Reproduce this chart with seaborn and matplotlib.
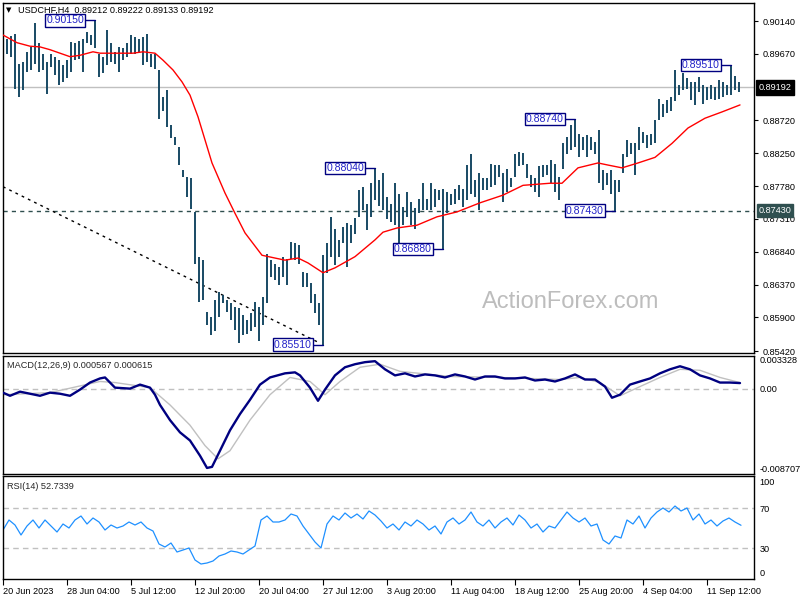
import numpy as np
import matplotlib
matplotlib.use('Agg')
import matplotlib.pyplot as plt
import matplotlib.transforms as mtransforms
import seaborn as sns

# ---------------- data (USDCHF H4) ----------------
# one drawn bar = two 4H bars, positions in 4H-bar units
bar_high = [
    .8990, .8989, .8993, .8996, .8953, .8955, .8970, .8977, .9011, .8982,
    .8967, .8955, .8967, .8963, .8958, .8951, .8958, .8984, .8982, .8986,
    .8989, .8998, .8994, .9015, .8967, .8963, .9001, .8982, .8970, .8977,
    .8975, .8982, .8994, .8991, .8989, .8991, .8996, .8967, .8967, .8944,
    .8905, .8915, .8865, .8848, .8834, .8801, .8791, .8790, .8741, .8676,
    .8672, .8598, .8591, .8615, .8626, .8622, .8615, .8610, .8605, .8603,
    .8593, .8586, .8596, .8612, .8605, .8619, .8681, .8672, .8667, .8662,
    .8676, .8674, .8698, .8696, .8693, .8655, .8653, .8639, .8624, .8610,
    .8680, .8696, .8734, .8717, .8701, .8720, .8725, .8722, .8732, .8772,
    .8777, .8753, .8782, .8804, .8787, .8796, .8762, .8753, .8782, .8767,
    .8748, .8770, .8755, .8746, .8760, .8782, .8760, .8782, .8774, .8772,
    .8774, .8770, .8767, .8774, .8779, .8774, .8808, .8824, .8787, .8796,
    .8789, .8789, .8810, .8808, .8808, .8796, .8803, .8789, .8824, .8827,
    .8825, .8810, .8794, .8789, .8806, .8808, .8808, .8815, .8810, .8791,
    .8839, .8848, .8865, .8874, .8853, .8848, .8851, .8848, .8841, .8858,
    .8801, .8796, .8801, .8787, .8787, .8824, .8844, .8839, .8839, .8863,
    .8855, .8851, .8853, .8872, .8903, .8896, .8901, .8906, .8944, .8922,
    .8939, .8932, .8927, .8927, .8934, .8922, .8920, .8922, .8920, .8929,
    .8927, .8922, .8951, .8936, .8927,
]
bar_low = [
    .8972, .8967, .8963, .8917, .8905, .8915, .8941, .8944, .8953, .8941,
    .8944, .8910, .8948, .8937, .8922, .8927, .8932, .8941, .8958, .8960,
    .8941, .8982, .8979, .8975, .8934, .8939, .8951, .8955, .8953, .8941,
    .8958, .8963, .8967, .8967, .8970, .8951, .8955, .8948, .8946, .8874,
    .8886, .8862, .8846, .8836, .8808, .8791, .8762, .8745, .8667, .8612,
    .8615, .8579, .8565, .8570, .8591, .8610, .8598, .8586, .8572, .8553,
    .8565, .8567, .8570, .8577, .8557, .8579, .8610, .8648, .8643, .8636,
    .8648, .8636, .8674, .8672, .8667, .8634, .8634, .8610, .8596, .8579,
    .8551, .8653, .8676, .8665, .8676, .8696, .8662, .8696, .8710, .8734,
    .8744, .8715, .8734, .8758, .8749, .8744, .8731, .8727, .8722, .8696,
    .8722, .8734, .8722, .8717, .8739, .8744, .8744, .8744, .8748, .8758,
    .8688, .8739, .8751, .8753, .8758, .8748, .8758, .8767, .8762, .8744,
    .8772, .8772, .8777, .8779, .8791, .8755, .8770, .8777, .8791, .8806,
    .8808, .8789, .8777, .8770, .8762, .8791, .8794, .8782, .8770, .8758,
    .8803, .8824, .8829, .8834, .8820, .8829, .8820, .8829, .8824, .8782,
    .8772, .8779, .8767, .8743, .8770, .8796, .8820, .8824, .8794, .8829,
    .8839, .8832, .8836, .8839, .8872, .8877, .8882, .8886, .8900, .8908,
    .8915, .8917, .8901, .8894, .8913, .8896, .8901, .8903, .8901, .8903,
    .8906, .8908, .8908, .8915, .8913,
]

# red moving average: (4H bar index, price)
ma_idx = [0, 7, 13.5, 18.5, 23.5, 28.5, 33.5, 38.5, 45, 48.5, 57, 65, 70, 76, 80,
          85, 89.5, 93.5, 97.5, 104.5, 111, 116, 121, 129.5, 136, 141, 147.5,
          152.5, 160, 166, 176, 186, 190, 197, 207, 217, 227, 238.5, 250, 260,
          273.5, 279.5, 287.5, 297.5, 302.5, 309.5, 317.5, 326, 334.5, 342.5,
          351, 359.5, 368.5]
ma_val = [.8994, .8983, .8978, .8977, .8973, .8968, .8963, .8965, .8970, .8968,
          .8968, .8968, .8970, .8968, .8958, .8944, .8927, .8908, .8877, .8811,
          .8768, .8739, .8711, .8679, .8675, .8672, .8675, .8668, .8654, .8661,
          .8677, .8701, .8712, .8718, .8722, .8734, .8741, .8754, .8765, .8779,
          .8782, .8782, .8804, .8811, .8808, .8804, .8811, .8819, .8839, .8861,
          .8875, .8884, .8894]

trend_idx = [0, 158]
trend_val = [0.8777, 0.8554]
support_level = 0.8743
last_close = 0.89192

annot_bar = [23, 80, 93, 110, 143, 153, 182]
annot_val = [0.90150, 0.85510, 0.88040, 0.86880, 0.88740, 0.87430, 0.89510]

main_ticks = [0.90140, 0.89670, 0.88720, 0.88250, 0.87780, 0.87310,
              0.86840, 0.86370, 0.85900, 0.85420]

macd_idx = [0, 3.5, 8.5, 13.5, 18.5, 23.5, 28.5, 33.5, 38.5, 43.5, 48.5, 51, 56,
            63.5, 68.5, 73.5, 76, 78.5, 83.5, 88.5, 93.5, 98.5, 102, 104.5, 108.5,
            113.5, 118.5, 123.5, 128.5, 133.5, 141, 146, 148.5, 151, 153.5, 157.5,
            161, 166, 171, 176, 181, 186, 191, 196, 201, 206, 211, 216, 221, 226,
            231, 236, 241, 246, 251, 256, 261, 266, 271, 276, 281, 286, 291, 296,
            301, 304.5, 308.5, 313.5, 318.5, 323.5, 328.5, 333.5, 338.5, 343.5,
            348.5, 353.5, 358.5, 363.5, 368.5]
macd_val = [-0.00041, -0.00073, -0.00031, -0.00052, -0.00073, -0.00041, -0.00052,
            -0.00073, -0.00010, 0.00062, 0.00104, 0.00114, 0.00010, 0.00000,
            0.00041, 0.00010, -0.00062, -0.00166, -0.00321, -0.00446, -0.00529,
            -0.00684, -0.00809, -0.00798, -0.00633, -0.00425, -0.00259, -0.00114,
            0.00041, 0.00114, 0.00156, 0.00166, 0.00135, 0.00073, 0.00010,
            -0.00124, -0.00010, 0.00135, 0.00218, 0.00249, 0.00270, 0.00280,
            0.00197, 0.00135, 0.00156, 0.00124, 0.00145, 0.00135, 0.00114,
            0.00145, 0.00124, 0.00093, 0.00124, 0.00124, 0.00104, 0.00104,
            0.00114, 0.00083, 0.00093, 0.00073, 0.00104, 0.00145, 0.00093,
            0.00093, 0.00021, -0.00093, -0.00062, 0.00041, 0.00073, 0.00104,
            0.00156, 0.00197, 0.00228, 0.00197, 0.00135, 0.00104, 0.00062,
            0.00062, 0.000567]
signal_idx = [0, 23.5, 48.5, 56, 73.5, 83.5, 93.5, 101, 107.5, 113.5, 123.5, 133.5,
              143.5, 153.5, 161, 168.5, 178.5, 188.5, 198.5, 223.5, 248.5, 278.5,
              288.5, 298.5, 308.5, 318.5, 328.5, 338.5, 348.5, 358.5, 368.5]
signal_val = [-0.00062, -0.00041, 0.00073, 0.00062, 0.00010, -0.00166, -0.00373,
              -0.00581, -0.00716, -0.00633, -0.00321, -0.00062, 0.00114, 0.00073,
              -0.00062, 0.00073, 0.00218, 0.00249, 0.00176, 0.00124, 0.00114,
              0.00093, 0.00114, 0.00062, -0.00073, 0.00021, 0.00114, 0.00197,
              0.00187, 0.00114, 0.000615]
macd_max = 0.003328
macd_min = -0.008707

# RSI(14), one value every 3 bars
rsi_val = [48, 58, 53, 43, 52, 58, 50, 58, 52, 46, 54, 50, 58, 62, 54, 60, 56, 48,
           53, 50, 52, 56, 53, 56, 50, 47, 34, 31, 35, 26, 28, 30, 18, 14, 15, 17,
           22, 24, 27, 26, 24, 28, 32, 58, 62, 56, 56, 58, 64, 62, 52, 44, 36, 30,
           54, 62, 58, 65, 60, 64, 59, 67, 63, 57, 50, 54, 48, 56, 52, 58, 54, 48,
           52, 44, 56, 60, 54, 58, 66, 56, 52, 58, 50, 56, 60, 53, 63, 58, 50, 54,
           46, 52, 50, 58, 66, 60, 56, 60, 52, 54, 38, 34, 42, 40, 58, 54, 62, 50,
           60, 66, 70, 66, 72, 67, 70, 58, 64, 54, 58, 52, 57, 60, 56, 52.7339]

date_labels = ['20 Jun 2023', '28 Jun 04:00', '5 Jul 12:00', '12 Jul 20:00',
               '20 Jul 04:00', '27 Jul 12:00', '3 Aug 20:00', '11 Aug 04:00',
               '18 Aug 12:00', '25 Aug 20:00', '4 Sep 04:00', '11 Sep 12:00']

# ---------------- style ----------------
sns.set_theme(style='white')
plt.rcParams['font.family'] = ['Liberation Sans', 'DejaVu Sans']
plt.rcParams['axes.linewidth'] = 1.0

fig = plt.figure(figsize=(8, 6), dpi=100)
W, H = 800, 600


def panel(x0, y0, x1, y1):
    a = fig.add_axes([x0 / W, 1 - y1 / H, (x1 - x0) / W, (y1 - y0) / H])
    a.set_facecolor('white')
    for s in a.spines.values():
        s.set_color('black')
        s.set_linewidth(1.0)
    a.set_xlim(-0.25, 375.5)
    a.yaxis.tick_right()
    a.set_xticks([])
    return a


ax = panel(2.5, 2.5, 754, 353)
ax_macd = panel(2.5, 356, 754, 474)
ax_rsi = panel(2.5, 476, 754, 579)

fs = 6.6
bar_color = '#184a64'
navy = '#000080'

# ---------------- main price panel ----------------
bar_pos = np.arange(len(bar_high)) * 2
ax.set_ylim(0.85392, 0.90405)
ax.axhline(last_close, color='#c0c0c0', lw=1, zorder=1)
ax.axhline(support_level, color='#2f4f4f', lw=1, ls=(0, (3, 3)), zorder=1)
ax.plot(trend_idx, trend_val, color='black', lw=1, ls=(0, (2, 3)), zorder=1)
ax.vlines(bar_pos, bar_low, bar_high, color=bar_color, lw=1.4, zorder=2)
sns.lineplot(x=ma_idx, y=ma_val, ax=ax, color='#ff0000', linewidth=1, zorder=3)

for k, v in zip(annot_bar, annot_val):
    p = bar_pos[k]
    ax.plot([p - 5, p], [v, v], color=navy, lw=1, zorder=4)
    ax.text(p - 5.5, v, f'{v:.5f}', ha='right', va='center', fontsize=7.6,
            color='#2222c8', zorder=5,
            bbox=dict(boxstyle='square,pad=0.12', fc='white', ec=navy, lw=1))

ax.set_yticks(main_ticks)
ax.set_yticklabels([f'{t:.5f}' for t in main_ticks])
ax.tick_params(axis='y', direction='out', length=3, width=0.8, pad=3,
               labelsize=fs, colors='black')
ax.set_xlabel('')
ax.set_ylabel('')

trans = mtransforms.blended_transform_factory(ax.transAxes, ax.transData)
ax.text(1.006, last_close, f'{last_close:.5f}', transform=trans, ha='left',
        va='center', fontsize=fs, color='white', clip_on=False, zorder=6,
        bbox=dict(boxstyle='square,pad=0.3', fc='black', ec='black'))
ax.text(1.006, support_level, f'{support_level:.5f}', transform=trans, ha='left',
        va='center', fontsize=fs, color='white', clip_on=False, zorder=6,
        bbox=dict(boxstyle='square,pad=0.2', fc='#2f4f4f', ec='#2f4f4f'))

ax.text(0.7565, 0.1455, 'ActionForex.com', transform=ax.transAxes, ha='center',
        va='center', fontsize=17, color='#bdbdbd')

fig.text(6 / W, 1 - 10 / H, '\u25bc', fontsize=5, family=['DejaVu Sans'],
         va='center', ha='left', color='black')
fig.text(18 / W, 1 - 10 / H, 'USDCHF,H4  0.89212 0.89222 0.89133 0.89192',
         fontsize=fs, va='center', ha='left', color='black')

# ---------------- MACD panel ----------------
ax_macd.set_ylim(macd_min, macd_max)
ax_macd.axhline(0, color='#c0c0c0', lw=1, ls=(0, (4, 3)), zorder=1)
sns.lineplot(x=signal_idx, y=signal_val, ax=ax_macd, color='#c0c0c0',
             linewidth=1, zorder=2)
sns.lineplot(x=macd_idx, y=macd_val, ax=ax_macd, color=navy, linewidth=1.7,
             zorder=3)
ax_macd.set_yticks([macd_max, 0, macd_min])
ax_macd.set_yticklabels([f'{macd_max:.6f}', '0.00', f'{macd_min:.6f}'])
ax_macd.tick_params(axis='y', length=0, pad=4, labelsize=fs, colors='black')
lbls = ax_macd.get_yticklabels()
lbls[0].set_va('top')
lbls[2].set_va('bottom')
ax_macd.set_xlabel('')
ax_macd.set_ylabel('')
ax_macd.text(0.006, 0.92, 'MACD(12,26,9) 0.000567 0.000615',
             transform=ax_macd.transAxes, fontsize=fs, va='center', ha='left')

# ---------------- RSI panel ----------------
rsi_idx = np.arange(len(rsi_val)) * 3
ax_rsi.set_ylim(-1, 102)
for lvl in (70, 30):
    ax_rsi.axhline(lvl, color='#c0c0c0', lw=1, ls=(0, (4, 3)), zorder=1)
sns.lineplot(x=rsi_idx, y=rsi_val, ax=ax_rsi, color='#1e90ff', linewidth=0.9,
             zorder=2)
ax_rsi.set_yticks([100, 70, 30, 0])
ax_rsi.set_yticklabels(['100', '70', '30', '0'])
ax_rsi.tick_params(axis='y', length=0, pad=4, labelsize=fs, colors='black')
rl = ax_rsi.get_yticklabels()
rl[0].set_va('top')
rl[3].set_va('bottom')
ax_rsi.set_ylabel('')
ax_rsi.text(0.006, 0.9, 'RSI(14) 52.7339', transform=ax_rsi.transAxes,
            fontsize=fs, va='center', ha='left')

date_pos = np.arange(len(date_labels)) * 32
ax_rsi.set_xticks(date_pos)
ax_rsi.set_xticklabels(date_labels)
ax_rsi.tick_params(axis='x', direction='out', length=4, width=0.8, pad=2,
                   labelsize=fs, colors='black', bottom=True)
for t in ax_rsi.get_xticklabels():
    t.set_ha('left')
ax_rsi.set_xlabel('')

fig.savefig('out.png', dpi=100)
